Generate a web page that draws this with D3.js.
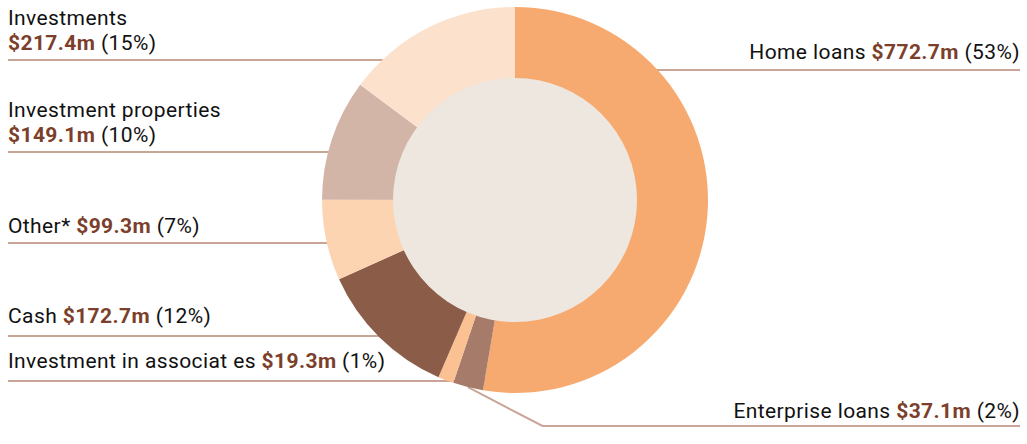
<!DOCTYPE html>
<html><head><meta charset="utf-8">
<script src="https://cdn.jsdelivr.net/npm/d3@7"></script>
<style>
html,body{margin:0;padding:0;background:#fff;}
svg{display:block;}
text{font-family:Roboto,"Noto Sans",sans-serif;font-size:21px;letter-spacing:0.4px;fill:#111;}
</style></head>
<body>
<svg id="chart" width="1027" height="444"></svg>
<script>
const categories = ["Home loans","Enterprise loans","Investment in associat es","Cash","Other*","Investment properties","Investments"];
const values = [772.7,37.1,19.3,172.7,99.3,149.1,217.4];
const valueLabels = ["$772.7m","$37.1m","$19.3m","$172.7m","$99.3m","$149.1m","$217.4m"];
const percents = ["53%","2%","1%","12%","7%","10%","15%"];
const colors = ["#F7AA6F","#A67B6A","#FBC193","#8B5C47","#FDD4B1","#D3B5A7","#FCE1CD"];

// layout (positions only)
const layout = [
  {side:"right", nameY:59, lineY:70},
  {side:"right", nameY:418, lineY:426, elbow:true},
  {side:"left", nameY:368, lineY:381},
  {side:"left", nameY:323, lineY:336},
  {side:"left", nameY:233, lineY:243},
  {side:"left", nameY:117, valueY:142, lineY:152},
  {side:"left", nameY:25, valueY:50, lineY:60}
];

const svg = d3.select("#chart");
const cx = 515, cy = 200, R = 193, r0 = 122;
const leftX = 8, rightX = 1020;
const lineColor = "#C9A597", valColor = "#7B3F2B";

const pie = d3.pie().sort(null).value(d => d)(values);
const arc = d3.arc().innerRadius(0).outerRadius(R);

const gLines = svg.append("g");
const gDonut = svg.append("g").attr("transform", `translate(${cx},${cy})`);

pie.forEach((p, i) => {
  const L = layout[i];
  if (L.elbow) {
    const mid = (p.startAngle + p.endAngle) / 2;
    const [px, py] = d3.pointRadial(mid, R);
    const sx = cx + px, sy = cy + py;
    const ex = sx + (L.lineY - sy) * 1.92;
    gLines.append("polyline")
      .attr("points", `${sx},${sy} ${ex},${L.lineY} ${rightX},${L.lineY}`)
      .attr("fill","none").attr("stroke", lineColor).attr("stroke-width", 2);
  } else if (L.side === "left") {
    gLines.append("line").attr("x1", leftX).attr("x2", cx).attr("y1", L.lineY).attr("y2", L.lineY)
      .attr("stroke", lineColor).attr("stroke-width", 2);
  } else {
    gLines.append("line").attr("x1", cx).attr("x2", rightX).attr("y1", L.lineY).attr("y2", L.lineY)
      .attr("stroke", lineColor).attr("stroke-width", 2);
  }
});

gDonut.selectAll("path.slice").data(pie).join("path")
  .attr("class","slice")
  .attr("d", arc)
  .attr("fill", (d,i) => colors[i]);

gDonut.append("circle").attr("r", r0).attr("fill", "#EEE7E0");

// labels
categories.forEach((name, i) => {
  const L = layout[i];
  if (L.valueY !== undefined) {
    svg.append("text").attr("x", leftX).attr("y", L.nameY).text(name);
    const t = svg.append("text").attr("x", leftX).attr("y", L.valueY);
    t.append("tspan").attr("font-weight", 700).style("fill", valColor).text(valueLabels[i]);
    t.append("tspan").text(" (" + percents[i] + ")");
  } else {
    const t = svg.append("text").attr("y", L.nameY)
      .attr("x", L.side === "left" ? leftX : rightX)
      .attr("text-anchor", L.side === "left" ? "start" : "end");
    t.append("tspan").text(name + " ");
    t.append("tspan").attr("font-weight", 700).style("fill", valColor).text(valueLabels[i]);
    t.append("tspan").text(" (" + percents[i] + ")");
  }
});
</script>
</body></html>
